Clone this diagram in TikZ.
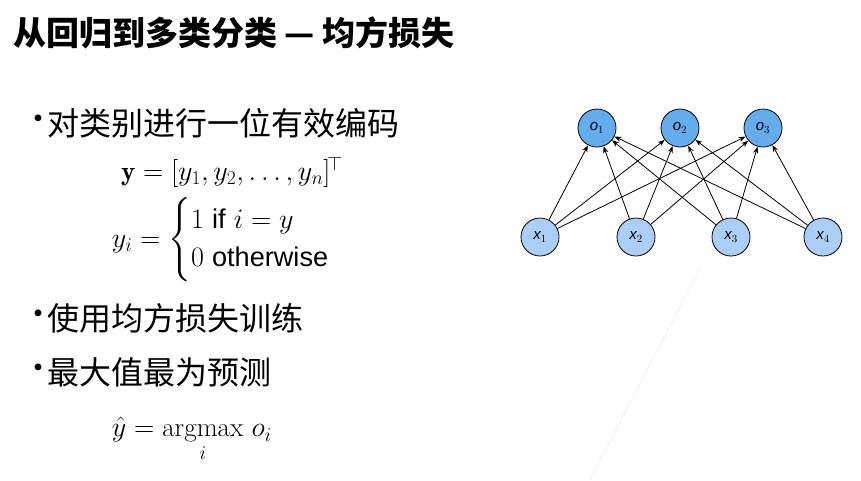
\documentclass[tikz,border=0pt]{standalone}
\usepackage{amsmath}
\usepackage{fontspec}
\setsansfont{Liberation Sans}
\newfontfamily\cjk{Noto Sans CJK SC}
\usetikzlibrary{arrows.meta}
\definecolor{outblue}{RGB}{100,172,238}
\definecolor{inblue}{RGB}{170,206,245}
\tikzset{
  unit/.style={circle, draw=black, thick, minimum size=38pt, inner sep=0pt, font=\sffamily\itshape\fontsize{15}{15}\selectfont},
  outunit/.style={unit, fill=outblue},
  inunit/.style={unit, fill=inblue},
  bullet/.style={anchor=west, inner sep=0pt, font=\cjk\fontsize{32}{34}\selectfont},
  formula/.style={scale=1.13, transform shape, font=\fontsize{24}{28}\selectfont}
}
\begin{document}
\begin{tikzpicture}[x=1pt, y=-1pt]
  \useasboundingbox (0,0) rectangle (861,480);
  % Title.
  \node[anchor=west, inner sep=0pt, font=\cjk\bfseries\fontsize{33}{36}\selectfont] (title) at (13,33) {从回归到多类分类 — 均方损失};
  % Bullets and formulas.
  \foreach \n/\y in {1/123,2/318,3/372}
    \node[bullet] (dot\n) at (22,\y) {·};
  \node[bullet] (b1) at (47,123) {对类别进行一位有效编码};
  \node[formula] (f1) at (232,172) {$\mathbf{y}=[y_1,y_2,\ldots,y_n]^{\!\top}$};
  \node[formula, anchor=west] (f2) at (108,240) {$y_i=\begin{cases}1\ \text{\sffamily if}\ i=y\\ 0\ \text{\sffamily otherwise}\end{cases}$};
  \node[bullet] (b2) at (47,318) {使用均方损失训练};
  \node[bullet] (b3) at (47,372) {最大值最为预测};
  \node[formula, anchor=west] (f3) at (108,440) {$\hat{y}=\underset{i}{\mathrm{argmax}}\ o_i$};
  % Faint guide line.
  \draw[black!10] (700,268) -- (590,480);
  % Network units.
  \foreach \i/\x in {1/597,2/680,3/763}
    \node[outunit] (o\i) at (\x,128) {o$_{\i}$};
  \foreach \i/\x in {1/540,2/636,3/731,4/823}
    \node[inunit] (x\i) at (\x,237) {x$_{\i}$};
  % Fully connected edges.
  \foreach \i in {1,...,4}
    \foreach \j in {1,2,3}
      \draw[-{Stealth[length=7pt]}, thick] (x\i) -- (o\j);
\end{tikzpicture}
\end{document}
